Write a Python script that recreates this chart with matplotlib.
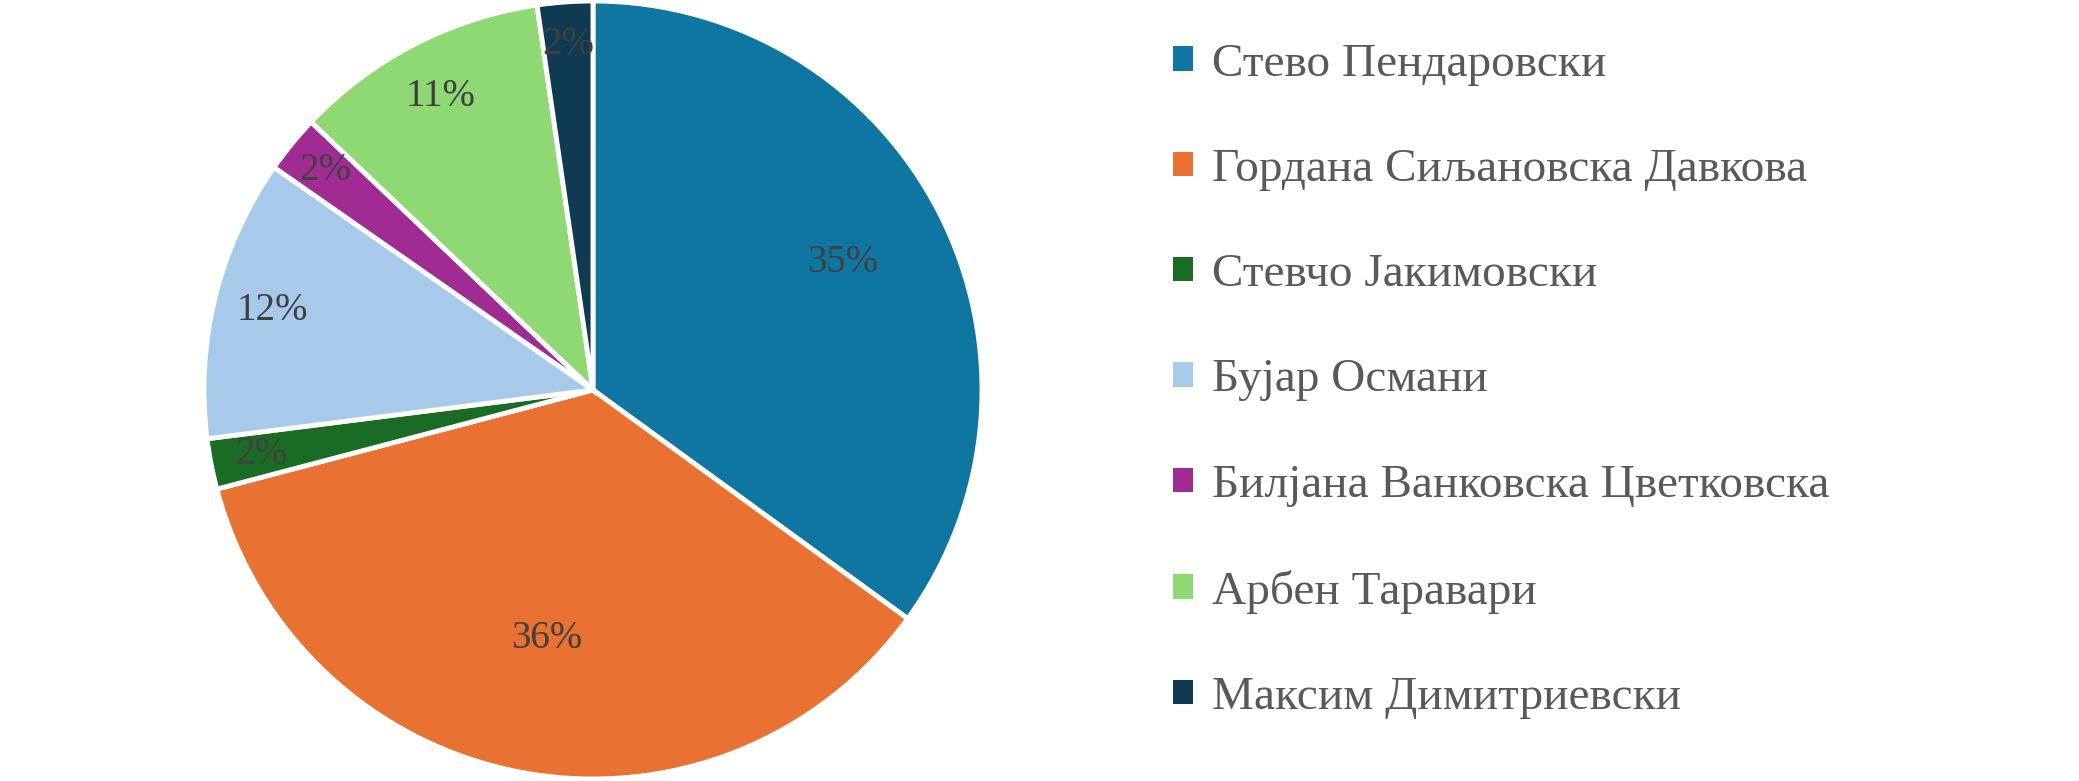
import numpy as np
import matplotlib.pyplot as plt
from matplotlib.patches import Patch

candidates = [
    "Стево Пендаровски",
    "Гордана Сиљановска Давкова",
    "Стевчо Јакимовски",
    "Бујар Османи",
    "Билјана Ванковска Цветковска",
    "Арбен Таравари",
    "Максим Димитриевски",
]
shares = [35.0, 35.9, 2.1, 11.7, 2.4, 10.6, 2.3]
colors = ["#0E76A0", "#E97132", "#1A6B24", "#A7CAEB", "#A02B93", "#8ED973", "#0E3A52"]

# how far out each percentage label sits (fraction of radius)
label_r = [0.72, 0.65, 0.87, 0.85, 0.89, 0.85, 0.89]

fig = plt.figure(figsize=(20.79, 7.81), dpi=100)
ax = fig.add_axes([(593 - 389) / 2079, (781 - 390 - 389) / 781, 778 / 2079, 778 / 781])

wedges, texts, autotexts = ax.pie(
    shares, colors=colors, startangle=90, counterclock=False,
    autopct="%.0f%%", radius=1,
    wedgeprops=dict(edgecolor="white", linewidth=3.5),
    textprops=dict(family="Liberation Serif", fontsize=28, color="#404040"),
)

for w, t, r in zip(wedges, autotexts, label_r):
    mid = np.deg2rad((w.theta1 + w.theta2) / 2)
    t.set_position((r * np.cos(mid), r * np.sin(mid)))

ax.set_xlim(-1, 1)
ax.set_ylim(-1, 1)
ax.set_aspect("equal")
ax.axis("off")

handles = [Patch(facecolor=c, edgecolor="none") for c in colors]
leg = fig.legend(
    handles, candidates, loc="upper left", bbox_to_anchor=(1173 / 2079, 1 - 43 / 781),
    frameon=False, prop=dict(family="Liberation Serif", size=34),
    labelcolor="#595959", labelspacing=1.33, handlelength=0.42, handleheight=0.42,
    handletextpad=0.4, borderpad=0, borderaxespad=0,
)

fig.savefig("out.png", dpi=100)
